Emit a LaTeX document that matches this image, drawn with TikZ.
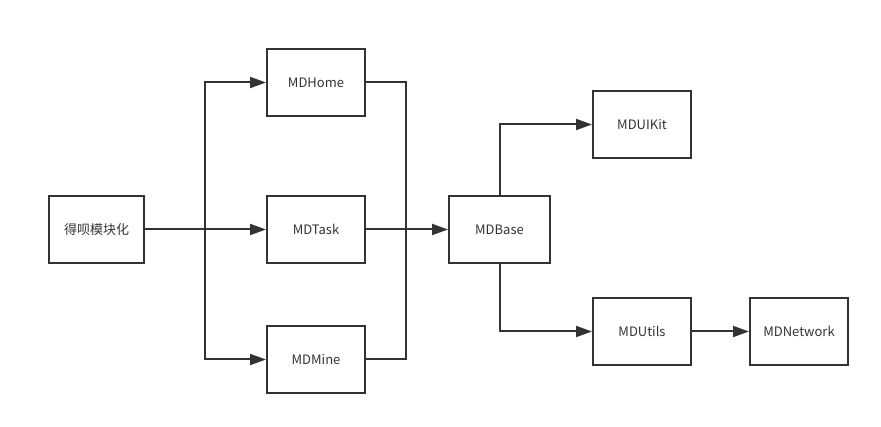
\documentclass[tikz,border=0pt]{standalone}
\usepackage{fontspec}
\setmainfont{Noto Sans CJK SC}
\usetikzlibrary{positioning, arrows.meta}

\definecolor{linegray}{HTML}{333333}

\tikzset{
	box/.style={draw=linegray, rectangle, line width=2pt, minimum width=98pt, minimum height=67pt, inner sep=0pt, font=\fontsize{13}{15}\selectfont, text=linegray},
	conn/.style={draw=linegray, line width=2pt},
	arr/.style={conn, -{Triangle[length=16pt, width=11pt]}}
}

\begin{document}
\begin{tikzpicture}[x=1pt, y=-1pt]
		\useasboundingbox (0, 0) rectangle (881, 427);

		\node[box, minimum width=95pt] (module) at (96.5, 229.5) {得呗模块化};
		\node[box] (home) at (316, 82.5) {MDHome};
		\node[box] (task) at (316, 229.5) {MDTask};
		\node[box] (mine) at (316, 359.5) {MDMine};
		\node[box, minimum width=101pt] (base) at (499.5, 229.5) {MDBase};
		\node[box] (uikit) at (642, 124.5) {MDUIKit};
		\node[box] (utils) at (642, 331.5) {MDUtils};
		\node[box] (network) at (799, 331.5) {MDNetwork};

		% fan out to the business modules
		\coordinate (split) at (205, 229.5);
		\draw [arr] (module.east) -- (task.west);
		\draw [arr] (split) |- (home.west);
		\draw [arr] (split) |- (mine.west);

		% merge into the base module
		\coordinate (merge) at (406, 229.5);
		\draw [conn] (home.east) -| (merge);
		\draw [conn] (mine.east) -| (merge);
		\draw [arr] (task.east) -- (base.west);

		\draw [arr] (base.north) |- (uikit.west);
		\draw [arr] (base.south) |- (utils.west);
		\draw [arr] (utils.east) -- (network.west);
	\end{tikzpicture}
\end{document}
